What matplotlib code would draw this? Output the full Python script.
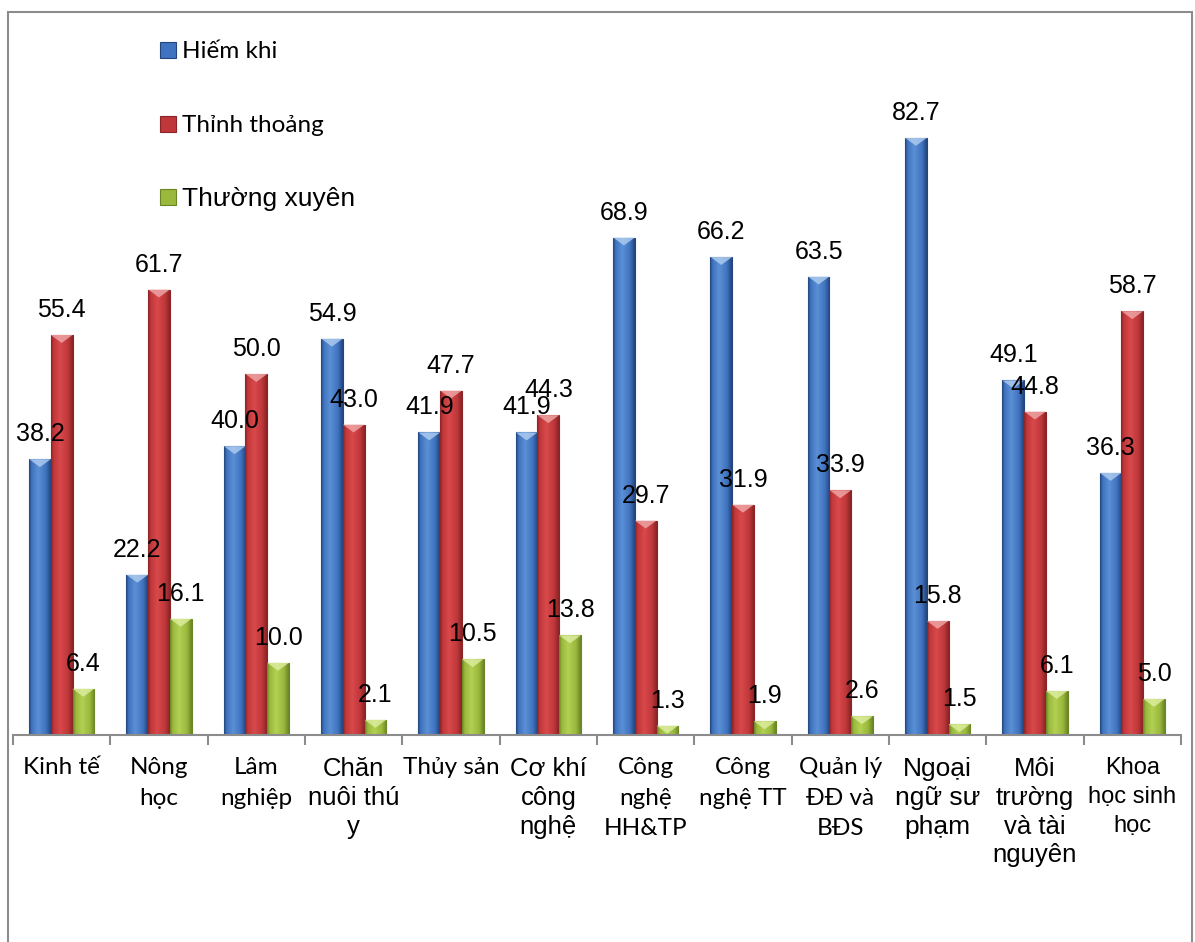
import numpy as np
import matplotlib.pyplot as plt
from matplotlib.colors import LinearSegmentedColormap
from matplotlib.patches import Polygon, Rectangle

categories = ['Kinh tế', 'Nông\nhọc', 'Lâm\nnghiệp', 'Chăn\nnuôi thú\ny', 'Thủy sản',
              'Cơ khí\ncông\nnghệ', 'Công\nnghệ\nHH&TP', 'Công\nnghệ TT',
              'Quản lý\nĐĐ và\nBĐS', 'Ngoại\nngữ sư\nphạm', 'Môi\ntrường\nvà tài\nnguyên',
              'Khoa\nhọc sinh\nhọc']
hiem_khi = [38.2, 22.2, 40.0, 54.9, 41.9, 41.9, 68.9, 66.2, 63.5, 82.7, 49.1, 36.3]
thinh_thoang = [55.4, 61.7, 50.0, 43.0, 47.7, 44.3, 29.7, 31.9, 33.9, 15.8, 44.8, 58.7]
thuong_xuyen = [6.4, 16.1, 10.0, 2.1, 10.5, 13.8, 1.3, 1.9, 2.6, 1.5, 6.1, 5.0]
series_names = ['Hiếm khi', 'Thỉnh thoảng', 'Thường xuyên']

# calibri-like vs arial-like labels, as in the original
CAL = 'Lato'
ARI = 'Liberation Sans'
label_fonts = [CAL, CAL, CAL, ARI, CAL, ARI, CAL, CAL, CAL, ARI, ARI, ARI]
label_sizes = [17.5, 17.5, 17.5, 18.5, 17.5, 18.5, 17.5, 17.5, 17.5, 19, 18.5, 17]
label_gaps = [1.55, 1.55, 1.55, 1.25, 1.55, 1.25, 1.55, 1.55, 1.55, 1.25, 1.25, 1.4]

# dark edge, mid, light highlight
palettes = [
    ('#23457c', '#3f73bf', '#5b90d6', '#b7d3f2'),
    ('#8a2426', '#c0373a', '#d8494b', '#f2b1b2'),
    ('#6a8526', '#9ab83c', '#b2d153', '#e3f2a8'),
]

W, H = 1195, 942
fig = plt.figure(figsize=(W / 100, H / 100), dpi=100)
fig.patch.set_facecolor('white')

x0, x1 = 13, 1181
base = 735
px_per_unit = 7.22
ymax = 90
ax = fig.add_axes([x0 / W, 1 - base / H, (x1 - x0) / W, ymax * px_per_unit / H])
ax.set_facecolor('none')

x = np.arange(len(categories))
w = 0.223
series = [hiem_khi, thinh_thoang, thuong_xuyen]
offsets = [-w, 0, w]

grad = np.linspace(0, 1, 64)
for vals, off, (dark, mid, light, hi) in zip(series, offsets, palettes):
    cmap = LinearSegmentedColormap.from_list(
        'g', [(0, dark), (0.12, mid), (0.42, light), (0.78, mid), (1, dark)])
    bars = ax.bar(x + off, vals, w, color=mid, edgecolor=dark, linewidth=0.8, zorder=2)
    for b in bars:
        bx, bw, bh = b.get_x(), b.get_width(), b.get_height()
        im = ax.imshow(grad[None, :], cmap=cmap, extent=[bx, bx + bw, 0, bh],
                       aspect='auto', zorder=2.5, interpolation='bilinear')
        im.set_clip_path(b)
        d = min(1.1, bh)
        tri = Polygon([[bx, bh], [bx + bw, bh], [bx + bw / 2, bh - d]],
                      closed=True, facecolor=hi, edgecolor='none', alpha=0.75, zorder=3)
        ax.add_patch(tri)
    for xi, v in zip(x + off, vals):
        ax.annotate(f'{v:.1f}', (xi, v), xytext=(0, 18), textcoords='offset points',
                    ha='center', va='center', fontsize=18, family=ARI, zorder=5)

ax.set_xlim(-0.5, len(categories) - 0.5)
ax.set_ylim(0, ymax)
ax.set_yticks([])
for s in ['left', 'right', 'top']:
    ax.spines[s].set_visible(False)
ax.spines['bottom'].set_color('#8c8c8c')
ax.spines['bottom'].set_linewidth(1.5)

ax.set_xticks(x)
ax.set_xticklabels(categories)
ax.tick_params(axis='x', which='major', length=0, pad=16)
ax.set_xticks(np.arange(-0.5, len(categories)), minor=True)
ax.tick_params(axis='x', which='minor', length=7, width=1.5, color='#8c8c8c')
for t, f, s, g in zip(ax.get_xticklabels(), label_fonts, label_sizes, label_gaps):
    t.set_family(f)
    t.set_fontsize(s)
    t.set_linespacing(g)
    t.set_verticalalignment('top')

# legend
leg_y = [50, 124, 197]
leg_fonts = [CAL, CAL, ARI]
leg_sizes = [17.5, 17.5, 19]
for (dark, mid, light, hi), name, yy, f, s in zip(palettes, series_names, leg_y, leg_fonts, leg_sizes):
    fig.add_artist(Rectangle((160 / W, 1 - (yy + 8) / H), 16 / W, 16 / H,
                             transform=fig.transFigure, facecolor=mid, edgecolor=dark, lw=0.8))
    fig.text(182 / W, 1 - (yy + 2) / H, name, fontsize=s, family=f, va='center', ha='left')

# outer frame
fig.add_artist(Rectangle((8 / W, -0.05), (1192 - 8) / W, 1.05 - 12 / H,
                         transform=fig.transFigure, fill=False, edgecolor='#8c8c8c', lw=1.5))

fig.savefig('out.png', dpi=100)
